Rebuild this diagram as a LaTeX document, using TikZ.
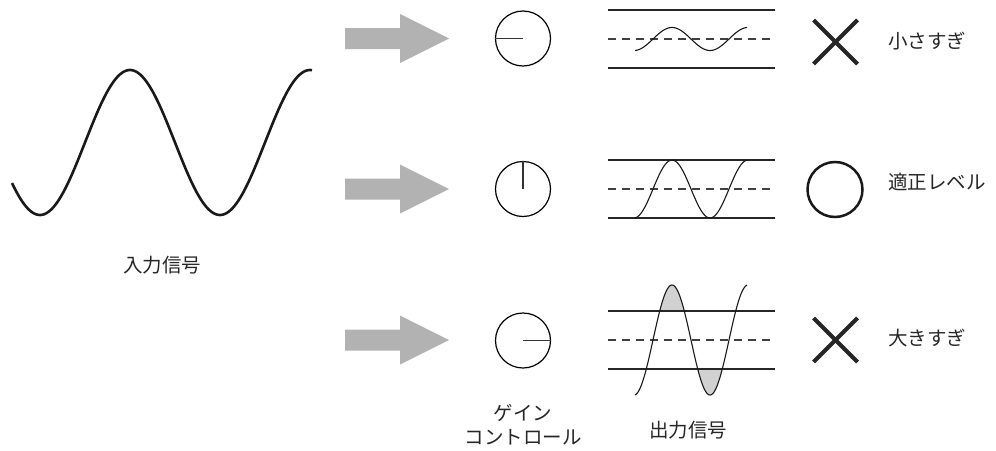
\documentclass[tikz,border=0pt]{standalone}
\usepackage{fontspec}
\newfontfamily\jp{Noto Sans CJK JP}
\begin{document}
\begin{tikzpicture}[x=1pt,y=-1pt,
  lbl/.style={font=\jp\fontsize{19.5}{22}\selectfont, text=black!85, inner sep=0pt},
  dial/.style={circle, draw, line width=1.2pt, minimum size=55pt, inner sep=0pt},
  hand/.style={line width=1.5pt, draw=black!80},
  bigarrow/.style={fill=black!30},
  rail/.style={line width=1.2pt, draw=black!85},
  midline/.style={line width=1.2pt, dash pattern=on 8pt off 6pt, draw=black!75},
  sig/.style={line width=1.1pt, draw=black!90},
  capfill/.style={fill=black!18},
  cross/.style={line width=4pt, draw=black!85},
  okmark/.style={circle, draw=black!90, line width=2.5pt, minimum size=55pt, inner sep=0pt}]
\useasboundingbox (0,0) rectangle (996,450);

% input signal
\draw[line width=2.6pt, draw=black!90] plot[domain=12:312, samples=160, smooth] (\x, {142.5+72.5*cos(2*(\x-40))});
\node[lbl] (inlbl) at (162,265.5) {入力信号};

% big arrows
\foreach \c/\n in {38.5/a1, 189/a2, 340/a3}{
  \fill[bigarrow] (345,\c-10.5) -- (400,\c-10.5) -- (400,\c-24.5) -- (449,\c) -- (400,\c+24.5) -- (400,\c+10.5) -- (345,\c+10.5) -- cycle;
}

% dials
\node[dial] (d1) at (523,38.5) {};
\node[dial] (d2) at (523,189) {};
\node[dial] (d3) at (523,340.5) {};
\draw[hand] (d1.center) -- (d1.west);
\draw[hand] (d2.center) -- (d2.north);
\draw[hand] (d3.center) -- (d3.east);
\node[lbl] (gain1) at (523,413) {ゲイン};
\node[lbl] (gain2) at (523,437) {コントロール};

% scope 1 (small)
\draw[rail] (608,10) -- (775,10);
\draw[rail] (608,68) -- (775,68);
\draw[midline] (608,39) -- (775,39);
\draw[sig] plot[domain=635:747, samples=100, smooth] (\x, {39 - 11.5*cos((\x-672)*4.7368)});

% scope 2 (right)
\draw[rail] (608,160) -- (775,160);
\draw[rail] (608,218) -- (775,218);
\draw[midline] (608,189) -- (775,189);
\draw[sig] plot[domain=635:747, samples=100, smooth] (\x, {189 - 29*cos((\x-672)*4.7368)});

% scope 3 (too large)
\begin{scope}
  \clip (600,270) rectangle (780,311);
  \fill[capfill] plot[domain=650:694, samples=60, smooth] (\x, {340 - 55*cos((\x-672)*4.7368)}) -- cycle;
\end{scope}
\begin{scope}
  \clip (600,369) rectangle (780,410);
  \fill[capfill] plot[domain=688:732, samples=60, smooth] (\x, {340 - 55*cos((\x-672)*4.7368)}) -- cycle;
\end{scope}
\draw[rail] (608,311) -- (775,311);
\draw[rail] (608,369) -- (775,369);
\draw[midline] (608,340) -- (775,340);
\draw[sig] plot[domain=635:747, samples=120, smooth] (\x, {340 - 55*cos((\x-672)*4.7368)});
\node[lbl] (outlbl) at (688,430) {出力信号};

% judgements
\draw[cross] (813.5,20) -- (857.5,64);
\draw[cross] (813.5,64) -- (857.5,20);
\node[lbl, anchor=west] (r1) at (888,41) {小さすぎ};
\node[okmark] (ok) at (835,189.5) {};
\node[lbl, anchor=west] (r2) at (888,182) {適正レベル};
\draw[cross] (813.5,318) -- (857.5,362);
\draw[cross] (813.5,362) -- (857.5,318);
\node[lbl, anchor=west] (r3) at (888,338) {大きすぎ};
\end{tikzpicture}
\end{document}
